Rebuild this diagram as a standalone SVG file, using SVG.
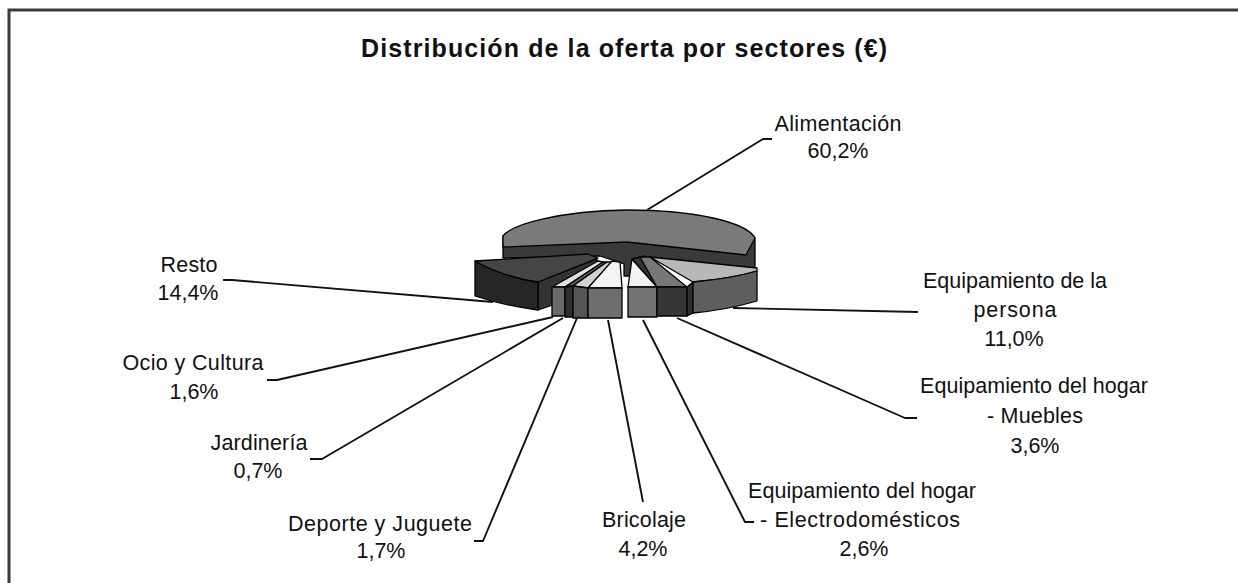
<svg xmlns="http://www.w3.org/2000/svg" width="1238" height="583" viewBox="0 0 1238 583">
<style>
.lbl{font-family:"Liberation Sans",Arial,sans-serif;font-size:21.5px;fill:#111;text-anchor:middle}
.ttl{font-family:"Liberation Sans",Arial,sans-serif;font-size:25px;font-weight:bold;fill:#111;text-anchor:middle}
.edge{fill:none;stroke:#111;stroke-width:1.9;stroke-linejoin:round}
.s{stroke:#000;stroke-width:1.3;stroke-linejoin:round}
</style>
<rect x="0" y="0" width="1238" height="583" fill="#fff"/>
<path d="M9,583 L9,10 L1238,10" fill="none" stroke="#3a3a3a" stroke-width="3"/>
<text class="ttl" x="624" y="57" textLength="526">Distribución de la oferta por sectores (€)</text>

<g id="connectors">
<path class="edge" d="M772,139 L763,139 L647,210"/>
<path class="edge" d="M918,312 L733,308"/>
<path class="edge" d="M917,418 L905,418 L677,318"/>
<path class="edge" d="M754,522 L745,522 L643,320"/>
<path class="edge" d="M643,502 L608,320"/>
<path class="edge" d="M474,541 L483,541 L577,318"/>
<path class="edge" d="M310,459 L322,459 L563,318"/>
<path class="edge" d="M267,380 L277,380 L553,317"/>
<path class="edge" d="M223,280 L232,280 L493,302"/>
</g>

<g id="alimentacion">
<path class="s" fill="#3a3a3a" d="M503,236 L503,258 L600,256 L624,264 L624,276 L632,276 L632,260 L650,260 L755,272 L755,238 Z"/>
<path class="s" fill="#7a7a7a" d="M627,242 L503,247 L503,236 C512,224 560,211 627,210 C695,210 746,222 755,238 L746,255 Z"/>
<text class="lbl" x="838" y="131" textLength="127">Alimentación</text>
<text class="lbl" x="838" y="158">60,2%</text>
</g>

<g id="resto">
<path class="s" fill="#333" d="M538,282 L597,259 L597,290 L538,310 Z"/>
<path class="s" fill="#262626" d="M475,261 C490,270 515,279 538,282 L538,310 C515,307 490,301 475,296 Z"/>
<path class="s" fill="#454545" d="M475,261 L588,254 L598,258 L538,282 C515,279 490,270 475,261 Z"/>
<text class="lbl" x="189" y="272" textLength="57">Resto</text>
<text class="lbl" x="188" y="300">14,4%</text>
</g>

<g id="ocio">
<path class="s" fill="#e2e2e2" d="M552,287 L565,287 L603,262 L598,261 Z"/>
<path class="s" fill="#6a6a6a" d="M552,287 L565,287 L565,316 L552,316 Z"/>
<text class="lbl" x="193" y="370" textLength="141">Ocio y Cultura</text>
<text class="lbl" x="194" y="399">1,6%</text>
</g>

<g id="jardineria">
<path class="s" fill="#5a5a5a" d="M565,287 L573,286 L607,262 L603,262 Z"/>
<path class="s" fill="#2e2e2e" d="M565,287 L573,286 L573,317 L565,317 Z"/>
<text class="lbl" x="259" y="450" textLength="97">Jardinería</text>
<text class="lbl" x="258" y="478">0,7%</text>
</g>

<g id="deporte">
<path class="s" fill="#d2d2d2" d="M573,286 L588,288 L612,262 L607,262 Z"/>
<path class="s" fill="#555" d="M573,286 L588,288 L588,318 L573,318 Z"/>
<text class="lbl" x="380" y="531" textLength="184">Deporte y Juguete</text>
<text class="lbl" x="381" y="558">1,7%</text>
</g>

<g id="bricolaje">
<path class="s" fill="#f4f4f4" d="M588,288 L622,288 L620,262 L612,261 Z"/>
<path class="s" fill="#6e6e6e" d="M588,288 L622,288 L622,318 L588,318 Z"/>
<text class="lbl" x="644" y="527" textLength="84">Bricolaje</text>
<text class="lbl" x="643" y="556">4,2%</text>
</g>

<g id="electrodomesticos">
<path class="s" fill="#f2f2f2" d="M628,287 L657,287 L632,259 Z"/>
<path class="s" fill="#727272" d="M628,287 L657,287 L657,317 L628,317 Z"/>
<text class="lbl" x="862" y="498" textLength="228">Equipamiento del hogar</text>
<text class="lbl" x="860" y="527" textLength="200">- Electrodomésticos</text>
<text class="lbl" x="864" y="556">2,6%</text>
</g>

<g id="muebles">
<path class="s" fill="#333" d="M632,259 L645,256 L662,287 L657,287 Z"/>
<path class="s" fill="#777" d="M657,287 L687,287 L650,257 L640,257 Z"/>
<path class="s" fill="#363636" d="M657,287 L687,287 L687,316 L657,316 Z"/>
<text class="lbl" x="1034" y="393" textLength="228">Equipamiento del hogar</text>
<text class="lbl" x="1035" y="423" textLength="96">- Muebles</text>
<text class="lbl" x="1035" y="453">3,6%</text>
</g>

<g id="persona">
<path class="s" fill="#2e2e2e" d="M687,287 L693,282 L693,313 L687,316 Z"/>
<path class="s" fill="#b8b8b8" d="M650,257 L757,268 L757,271 C740,276 715,280 693,282 Z"/>
<path class="s" fill="#5e5e5e" d="M693,282 C715,280 740,276 757,271 L757,301 C740,306 715,311 693,313 Z"/>
<text class="lbl" x="1015" y="288" textLength="184">Equipamiento de la</text>
<text class="lbl" x="1015" y="317" textLength="83">persona</text>
<text class="lbl" x="1014" y="346">11,0%</text>
</g>
</svg>
